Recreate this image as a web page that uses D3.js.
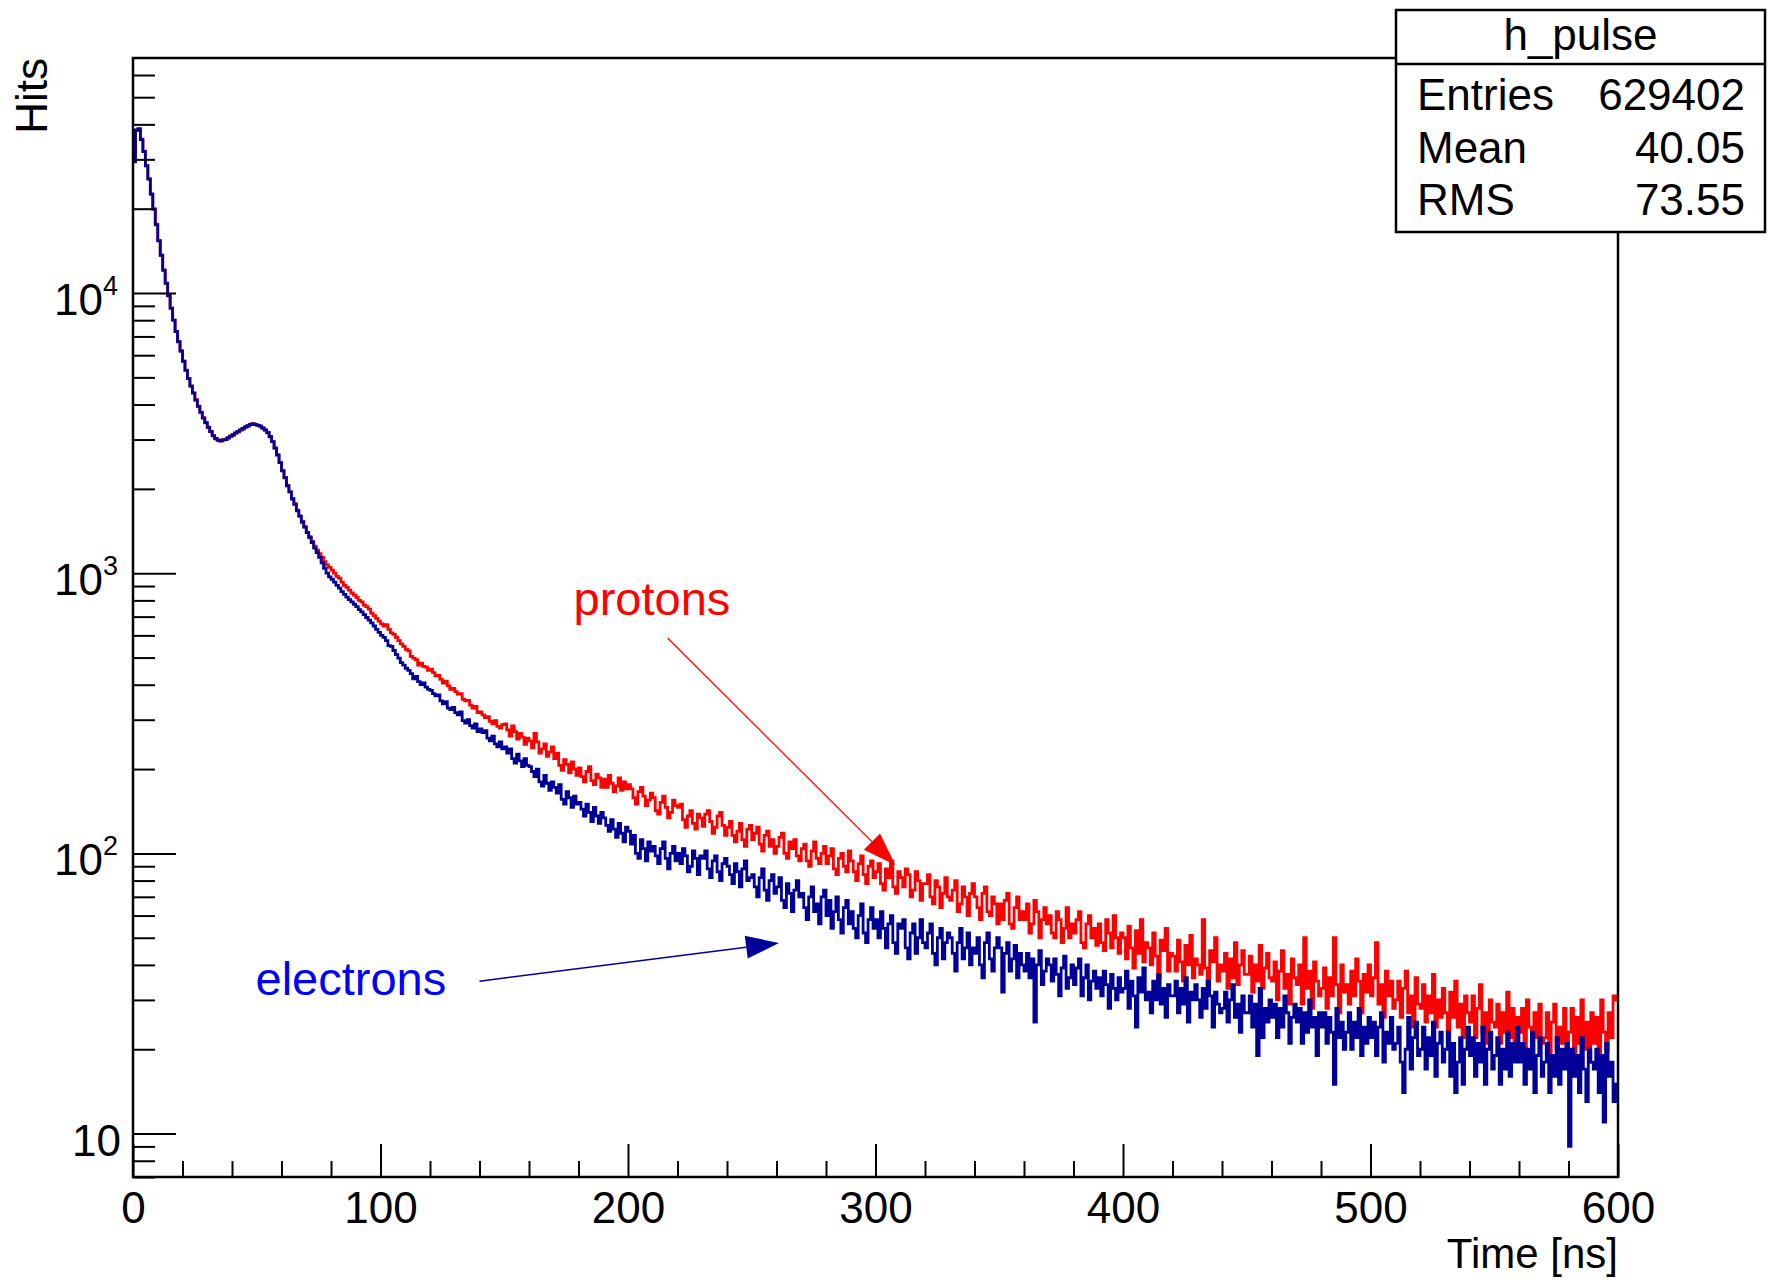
<!DOCTYPE html>
<html>
<head>
<meta charset="utf-8">
<script src="https://cdn.jsdelivr.net/npm/d3@7"></script>
<style>
  body { margin: 0; background: #fff; }
  text { font-family: "Liberation Sans", Arial, Helvetica, sans-serif; }
</style>
</head>
<body>
<svg id="chart"></svg>
<script>
// hits per 1 ns bin, 0..599 ns
const protons = [
  29500, 38000, 38600, 35400, 32100, 28400, 25600, 22500, 20000, 17600,
  15400, 13600, 12100, 10800, 9800, 8850, 8000, 7300, 6720, 6200,
  5720, 5310, 4960, 4660, 4390, 4160, 3950, 3760, 3590, 3440,
  3310, 3210, 3100, 3020, 2990, 2960, 2990, 3010, 3030, 3090,
  3110, 3170, 3190, 3250, 3270, 3330, 3350, 3390, 3420, 3400,
  3380, 3350, 3290, 3250, 3170, 3080, 2950, 2790, 2650, 2480,
  2330, 2200, 2060, 1950, 1850, 1770, 1680, 1600, 1530, 1465,
  1400, 1350, 1300, 1250, 1210, 1175, 1140, 1100, 1070, 1050,
  1025, 1000, 975, 960, 930, 905, 890, 870, 850, 835,
  820, 800, 790, 770, 760, 745, 720, 705, 690, 675,
  660, 648, 655, 630, 612, 605, 590, 575, 560, 548,
  535, 528, 505, 498, 492, 470, 478, 465, 462, 450,
  455, 442, 430, 432, 418, 405, 412, 396, 385, 388,
  378, 370, 372, 355, 350, 352, 338, 330, 335, 318,
  320, 312, 305, 308, 296, 290, 298, 284, 280, 288,
  290, 276, 262, 285, 272, 256, 268, 260, 245, 258,
  252, 238, 268, 250, 228, 236, 246, 222, 230, 240,
  218, 228, 206, 198, 216, 208, 194, 212, 200, 190,
  202, 188, 180, 196, 204, 182, 176, 192, 186, 172,
  184, 172, 190, 178, 166, 174, 186, 168, 180, 170,
  176, 170, 158, 150, 166, 172, 160, 148, 155, 164,
  158, 142, 138, 152, 160, 146, 134, 140, 155, 148,
  146, 150, 132, 124, 136, 142, 128, 122, 138, 134,
  125, 138, 142, 130, 118, 124, 136, 140, 126, 116,
  124, 130, 116, 110, 120, 128, 112, 106, 122, 126,
  112, 118, 124, 108, 102, 116, 120, 106, 112, 100,
  106, 114, 118, 100, 96, 110, 104, 112, 98, 94,
  104, 108, 94, 90, 102, 110, 96, 92, 100, 106,
  92, 98, 104, 88, 84, 96, 100, 90, 86, 102,
  94, 86, 80, 92, 98, 84, 78, 90, 94, 82,
  86, 92, 78, 74, 88, 82, 94, 76, 72, 86,
  82, 76, 88, 84, 70, 74, 86, 80, 68, 78,
  78, 84, 70, 66, 80, 76, 64, 72, 82, 70,
  68, 74, 80, 62, 66, 76, 70, 60, 72, 78,
  70, 64, 58, 72, 76, 62, 60, 70, 66, 56,
  66, 58, 68, 72, 56, 54, 64, 70, 58, 62,
  58, 66, 52, 56, 68, 62, 50, 58, 64, 56,
  60, 52, 50, 62, 58, 48, 54, 64, 50, 56,
  52, 58, 62, 48, 46, 56, 60, 50, 54, 47,
  56, 48, 45, 58, 52, 46, 60, 50, 44, 52,
  50, 42, 55, 46, 39, 53, 44, 58, 41, 48,
  46, 40, 52, 43, 36, 49, 45, 54, 38, 44,
  43, 38, 49, 41, 35, 47, 40, 51, 36, 42,
  40, 37, 58, 39, 34, 45, 41, 50, 35, 40,
  38, 44, 33, 42, 36, 48, 34, 40, 45, 37,
  37, 43, 32, 40, 35, 47, 33, 39, 44, 36,
  35, 41, 30, 38, 45, 33, 37, 29, 42, 36,
  34, 40, 29, 50, 33, 38, 28, 41, 35, 31,
  33, 39, 28, 36, 31, 50, 34, 27, 40, 32,
  34, 29, 38, 31, 42, 35, 27, 37, 32, 40,
  31, 36, 48, 29, 34, 26, 38, 31, 35, 28,
  30, 35, 26, 33, 38, 27, 31, 24, 36, 29,
  28, 34, 25, 31, 27, 37, 24, 30, 26, 33,
  27, 23, 32, 26, 35, 24, 29, 22, 31, 27,
  25, 31, 22, 28, 34, 23, 27, 21, 30, 25,
  24, 29, 21, 27, 23, 32, 22, 28, 20, 26,
  23, 28, 20, 30, 24, 19, 27, 22, 29, 21,
  22, 27, 19, 25, 29, 20, 24, 21, 28, 19,
  23, 28, 19, 26, 21, 30, 20, 25, 18, 27,
  21, 26, 19, 30, 23, 20, 27, 22, 31, 30
];

const electrons = [
  29400, 38200, 38500, 35300, 32000, 28500, 25500, 22600, 19900, 17500,
  15350, 13650, 12050, 10850, 9780, 8820, 8010, 7290, 6700, 6210,
  5700, 5300, 4950, 4650, 4400, 4150, 3940, 3750, 3580, 3450,
  3320, 3200, 3090, 3030, 2980, 2970, 2990, 3000, 3050, 3080,
  3120, 3160, 3210, 3240, 3290, 3320, 3360, 3390, 3410, 3400,
  3370, 3350, 3300, 3240, 3180, 3070, 2950, 2800, 2640, 2480,
  2320, 2190, 2050, 1950, 1840, 1760, 1670, 1600, 1520, 1460,
  1395, 1340, 1285, 1230, 1185, 1140, 1090, 1040, 1000, 970,
  950, 930, 905, 885, 860, 840, 822, 805, 790, 775,
  760, 742, 728, 712, 695, 680, 665, 648, 630, 615,
  600, 590, 575, 552, 548, 530, 512, 498, 480, 470,
  458, 450, 438, 420, 428, 410, 400, 406, 392, 385,
  382, 372, 365, 368, 350, 342, 348, 330, 326, 332,
  318, 312, 320, 298, 292, 300, 286, 280, 290, 272,
  278, 270, 274, 258, 252, 262, 246, 240, 250, 236,
  240, 228, 236, 218, 210, 226, 214, 204, 218, 206,
  204, 196, 188, 200, 180, 174, 190, 178, 168, 180,
  172, 164, 176, 156, 150, 166, 158, 146, 160, 150,
  152, 144, 136, 150, 140, 130, 146, 136, 128, 140,
  134, 126, 120, 132, 122, 114, 128, 118, 110, 124,
  120, 108, 116, 100, 96, 112, 104, 94, 110, 102,
  106, 98, 92, 104, 110, 96, 88, 100, 106, 94,
  100, 92, 104, 98, 86, 90, 102, 96, 84, 98,
  96, 102, 88, 82, 94, 98, 86, 80, 92, 96,
  90, 84, 78, 92, 86, 76, 88, 94, 80, 82,
  84, 76, 70, 82, 88, 74, 68, 80, 84, 72,
  76, 82, 68, 64, 78, 72, 62, 74, 80, 70,
  72, 64, 58, 70, 76, 62, 66, 56, 70, 74,
  60, 68, 54, 62, 70, 58, 52, 64, 68, 56,
  62, 54, 50, 60, 66, 52, 48, 58, 64, 54,
  58, 50, 62, 54, 46, 56, 60, 48, 44, 56,
  54, 58, 46, 42, 52, 56, 44, 50, 58, 48,
  46, 52, 56, 44, 40, 50, 54, 42, 48, 52,
  50, 44, 38, 48, 54, 42, 46, 52, 40, 46,
  44, 50, 40, 36, 48, 52, 42, 38, 46, 50,
  46, 32, 44, 48, 38, 42, 47, 36, 44, 40,
  38, 44, 36, 42, 25, 40, 45, 34, 38, 42,
  40, 35, 42, 37, 31, 39, 43, 33, 36, 40,
  34, 39, 42, 31, 36, 40, 30, 35, 38, 33,
  36, 31, 38, 34, 28, 37, 33, 30, 36, 32,
  33, 38, 28, 35, 31, 24, 36, 32, 39, 30,
  32, 27, 35, 30, 37, 29, 33, 26, 34, 31,
  31, 35, 27, 33, 29, 36, 25, 32, 30, 34,
  30, 26, 33, 28, 35, 31, 24, 32, 29, 27,
  28, 32, 25, 30, 34, 26, 29, 23, 31, 27,
  27, 31, 24, 29, 19, 33, 22, 28, 25, 30,
  26, 29, 22, 28, 24, 31, 27, 21, 26, 29,
  25, 28, 21, 27, 23, 30, 24, 26, 19, 27,
  24, 27, 21, 26, 23, 15, 28, 22, 25, 20,
  23, 27, 20, 25, 22, 28, 19, 24, 21, 26,
  22, 25, 19, 24, 27, 18, 23, 21, 26, 20,
  21, 24, 18, 14, 20, 26, 17, 22, 25, 19,
  20, 24, 17, 22, 19, 25, 16, 21, 23, 18,
  20, 23, 16, 21, 14, 18, 22, 15, 20, 24,
  19, 22, 16, 21, 18, 24, 15, 20, 23, 17,
  19, 22, 15, 20, 17, 23, 16, 21, 18, 24,
  18, 21, 15, 20, 17, 23, 14, 19, 22, 16,
  18, 21, 14, 19, 16, 22, 15, 20, 17, 21,
  9, 20, 16, 19, 14, 22, 17, 13, 20, 18,
  17, 20, 14, 19, 11, 21, 16, 18, 13, 15
];

const xMajorTicks = [0, 100, 200, 300, 400, 500, 600];
const yDecades = [1, 2, 3, 4];
const statsTitle = "h_pulse";
const statsNames = ["Entries", "Mean", "RMS"];
const statsValues = ["629402", "40.05", "73.55"];

// annotations in data coordinates [time, hits]
const protonLabel = { text: "protons", at: [178, 710] };
const protonArrow = { from: [216, 587], to: [308, 91] };
const electronLabel = { text: "electrons", at: [49.5, 31.2] };
const electronArrow = { from: [140, 35], to: [261, 47.9] };

const width = 1769, height = 1287;
const frame = { left: 133, right: 1618, top: 58, bottom: 1177 };
const fontSize = 44;

const x = d3.scaleLinear().domain([0, 600]).range([frame.left, frame.right]);
const y = d3.scaleLog().domain([7, 69000]).range([frame.bottom, frame.top]);

const svg = d3.select("#chart")
    .attr("width", width)
    .attr("height", height)
    .style("display", "block");

svg.append("rect").attr("width", width).attr("height", height).attr("fill", "#fff");

svg.append("clipPath").attr("id", "frameClip")
  .append("rect")
    .attr("x", frame.left).attr("y", frame.top)
    .attr("width", frame.right - frame.left)
    .attr("height", frame.bottom - frame.top);

// histograms as step lines
const step = d3.line()
    .x(d => x(d[0]))
    .y(d => y(d[1]))
    .curve(d3.curveStepAfter);

function histPoints(values) {
  const pts = values.map((v, i) => [i, v]);
  pts.push([values.length, values[values.length - 1]]);
  return pts;
}

const plot = svg.append("g").attr("clip-path", "url(#frameClip)");
plot.append("path")
    .attr("d", step(histPoints(protons)))
    .attr("fill", "none")
    .attr("stroke", "#ff0000")
    .attr("stroke-width", 2.8);
plot.append("path")
    .attr("d", step(histPoints(electrons)))
    .attr("fill", "none")
    .attr("stroke", "#000099")
    .attr("stroke-width", 2.8);

// x axis: minor ticks every 20 ns, major every 100 ns
const xMinor = d3.range(0, 601, 20).filter(v => v % 100 !== 0);
svg.append("g")
    .attr("transform", `translate(0,${frame.bottom})`)
    .call(d3.axisBottom(x).tickValues(xMinor).tickSize(-16).tickFormat(""))
    .call(g => g.select(".domain").remove())
    .call(g => g.selectAll("line").attr("stroke", "#000").attr("stroke-width", 2));

svg.append("g")
    .attr("transform", `translate(0,${frame.bottom})`)
    .call(d3.axisBottom(x).tickValues(xMajorTicks).tickSize(-33).tickFormat(d3.format("d")))
    .call(g => g.select(".domain").remove())
    .call(g => g.selectAll("line").attr("stroke", "#000").attr("stroke-width", 2))
    .call(g => g.selectAll("text")
        .attr("y", 46).attr("dy", 0)
        .attr("fill", "#000")
        .style("font-size", fontSize + "px")
        .style("font-family", '"Liberation Sans", Arial, sans-serif'));

svg.append("text")
    .attr("x", frame.right)
    .attr("y", 1268)
    .attr("text-anchor", "end")
    .style("font-size", "42px")
    .text("Time [ns]");

// y axis: log, major at decades, minor at 2..9
const yMinor = [];
[0, 1, 2, 3, 4].forEach(k => {
  for (let m = 2; m <= 9; m++) {
    const v = m * Math.pow(10, k);
    if (v >= y.domain()[0] && v <= y.domain()[1]) yMinor.push(v);
  }
});
const yMajor = yDecades.map(k => Math.pow(10, k));

svg.append("g")
    .attr("transform", `translate(${frame.left},0)`)
    .call(d3.axisLeft(y).tickValues(yMinor).tickSize(-22).tickFormat(""))
    .call(g => g.select(".domain").remove())
    .call(g => g.selectAll("line").attr("stroke", "#000").attr("stroke-width", 2));

svg.append("g")
    .attr("transform", `translate(${frame.left},0)`)
    .call(d3.axisLeft(y).tickValues(yMajor).tickSize(-43).tickFormat(""))
    .call(g => g.select(".domain").remove())
    .call(g => g.selectAll("line").attr("stroke", "#000").attr("stroke-width", 2));

const yLabels = svg.append("g");
yDecades.forEach(k => {
  const t = yLabels.append("text")
      .attr("x", k === 1 ? 121 : 118)
      .attr("y", y(Math.pow(10, k)) + 22)
      .attr("text-anchor", "end")
      .style("font-size", fontSize + "px");
  t.append("tspan").text("10");
  if (k > 1) {
    t.append("tspan")
        .attr("dy", -20)
        .style("font-size", "27px")
        .text(String(k));
  }
});

svg.append("text")
    .attr("transform", "translate(47,58) rotate(-90)")
    .attr("text-anchor", "end")
    .style("font-size", fontSize + "px")
    .text("Hits");

// frame
svg.append("rect")
    .attr("x", frame.left).attr("y", frame.top)
    .attr("width", frame.right - frame.left)
    .attr("height", frame.bottom - frame.top)
    .attr("fill", "none")
    .attr("stroke", "#000")
    .attr("stroke-width", 2.5);

// annotations
function arrow(a, color, width) {
  const x0 = x(a.from[0]), y0 = y(a.from[1]);
  const x1 = x(a.to[0]), y1 = y(a.to[1]);
  const len = Math.hypot(x1 - x0, y1 - y0);
  const ux = (x1 - x0) / len, uy = (y1 - y0) / len;
  const headLen = 33, headHalf = 11.5;
  const bx = x1 - ux * headLen, by = y1 - uy * headLen;
  svg.append("line")
      .attr("x1", x0).attr("y1", y0)
      .attr("x2", bx).attr("y2", by)
      .attr("stroke", color)
      .attr("stroke-width", width);
  svg.append("polygon")
      .attr("points", [
        [x1, y1],
        [bx - uy * headHalf, by + ux * headHalf],
        [bx + uy * headHalf, by - ux * headHalf]
      ].map(p => p.join(",")).join(" "))
      .attr("fill", color);
}

svg.append("text")
    .attr("x", x(protonLabel.at[0]))
    .attr("y", y(protonLabel.at[1]))
    .attr("fill", "#ff0000")
    .style("font-size", "47px")
    .text(protonLabel.text);
arrow(protonArrow, "#ff0000", 1.3);

svg.append("text")
    .attr("x", x(electronLabel.at[0]))
    .attr("y", y(electronLabel.at[1]))
    .attr("fill", "#0000ff")
    .style("font-size", "47px")
    .text(electronLabel.text);
arrow(electronArrow, "#000099", 1.5);

// stats box
const box = { x: 1396, y: 10, w: 369, h: 222, titleH: 54 };
const stats = svg.append("g");
stats.append("rect")
    .attr("x", box.x).attr("y", box.y)
    .attr("width", box.w).attr("height", box.h)
    .attr("fill", "#fff")
    .attr("stroke", "#000")
    .attr("stroke-width", 2.5);
stats.append("line")
    .attr("x1", box.x).attr("x2", box.x + box.w)
    .attr("y1", box.y + box.titleH).attr("y2", box.y + box.titleH)
    .attr("stroke", "#000")
    .attr("stroke-width", 2.5);
stats.append("text")
    .attr("x", box.x + box.w / 2)
    .attr("y", 50)
    .attr("text-anchor", "middle")
    .style("font-size", fontSize + "px")
    .text(statsTitle);
statsNames.forEach((name, i) => {
  const base = 110 + i * 52.5;
  stats.append("text")
      .attr("x", box.x + 21)
      .attr("y", base)
      .style("font-size", fontSize + "px")
      .text(name);
  stats.append("text")
      .attr("x", box.x + box.w - 20)
      .attr("y", base)
      .attr("text-anchor", "end")
      .style("font-size", fontSize + "px")
      .text(statsValues[i]);
});
</script>
</body>
</html>
